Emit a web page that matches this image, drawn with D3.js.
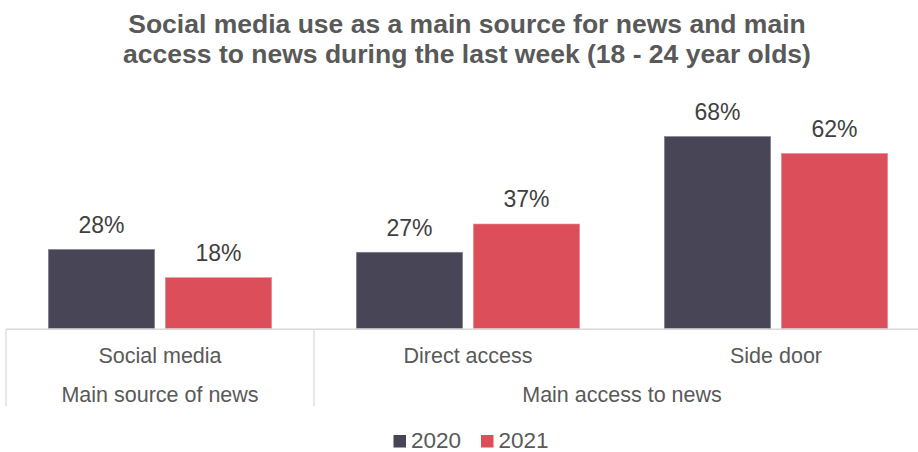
<!DOCTYPE html>
<html>
<head>
<meta charset="utf-8">
<script src="https://cdn.jsdelivr.net/npm/d3@7"></script>
<style>
  html, body { margin: 0; padding: 0; background: #fff; }
  svg { display: block; font-family: "Liberation Sans", Arial, sans-serif; }
</style>
</head>
<body>
<svg id="chart" width="918" height="452"></svg>
<script>
const titleLines = ["Social media use as a main source for news and main",
                    "access to news during the last week (18 - 24 year olds)"];
const categories = ["Social media", "Direct access", "Side door"];
const groups = [
  { name: "Main source of news", cats: ["Social media"] },
  { name: "Main access to news", cats: ["Direct access", "Side door"] }
];
const seriesNames = ["2020", "2021"];
const values2020 = [28, 27, 68];
const values2021 = [18, 37, 62];
const colors = ["#474556", "#DC4F5A"];

const svg = d3.select("#chart");

// Title
svg.append("g").selectAll("text").data(titleLines).join("text")
  .attr("x", 467).attr("y", (d, i) => 33 + i * 30)
  .attr("text-anchor", "middle")
  .attr("font-size", "26.5px").attr("font-weight", "bold")
  .attr("fill", "#595959")
  .text(d => d);

// Scales
const x = d3.scaleBand().domain(categories).range([6, 930]).padding(0);
const xInner = d3.scaleBand().domain(seriesNames)
  .range([42.3, x.bandwidth() - 42.3]).paddingInner(0.091);
const y = d3.scaleLinear().domain([0, 100]).range([328.5, 46.1]);

const data = categories.map((c, i) => ({
  cat: c,
  vals: [{ s: "2020", v: values2020[i] }, { s: "2021", v: values2021[i] }]
}));

const gCat = svg.append("g").selectAll("g").data(data).join("g")
  .attr("transform", d => `translate(${x(d.cat)},0)`);

gCat.selectAll("rect").data(d => d.vals).join("rect")
  .attr("x", d => xInner(d.s))
  .attr("width", xInner.bandwidth())
  .attr("y", d => y(d.v))
  .attr("height", d => y(0) - y(d.v))
  .attr("fill", d => colors[seriesNames.indexOf(d.s)])
  .attr("stroke", d => d.s === "2020" ? "#8a8894" : "#ea8f96")
  .attr("stroke-width", 0.6);

gCat.selectAll("text.val").data(d => d.vals).join("text")
  .attr("class", "val")
  .attr("x", d => xInner(d.s) + xInner.bandwidth() / 2)
  .attr("y", d => y(d.v) - 16.7)
  .attr("text-anchor", "middle")
  .attr("font-size", "23px")
  .attr("fill", "#404040")
  .text(d => d.v + "%");

// Axis
const axisColor = "#d9d9d9";
const axisY = 329.3;
svg.append("line")
  .attr("x1", x.range()[0]).attr("x2", x.range()[1])
  .attr("y1", axisY).attr("y2", axisY)
  .attr("stroke", axisColor).attr("stroke-width", 1.5);

// group separators
const groupBounds = groups.map(g => ({
  name: g.name,
  x0: x(g.cats[0]),
  x1: x(g.cats[g.cats.length - 1]) + x.bandwidth()
}));
const sepXs = [groupBounds[0].x0].concat(groupBounds.map(g => g.x1));
svg.append("g").selectAll("line").data(sepXs).join("line")
  .attr("x1", d => d).attr("x2", d => d)
  .attr("y1", axisY).attr("y2", 406)
  .attr("stroke", axisColor).attr("stroke-width", 1.2);

// category labels
svg.append("g").selectAll("text").data(categories).join("text")
  .attr("x", d => x(d) + x.bandwidth() / 2)
  .attr("y", 363)
  .attr("text-anchor", "middle")
  .attr("font-size", "21.5px")
  .attr("fill", "#595959")
  .text(d => d);

// group labels
svg.append("g").selectAll("text").data(groupBounds).join("text")
  .attr("x", d => (d.x0 + d.x1) / 2)
  .attr("y", 401.5)
  .attr("text-anchor", "middle")
  .attr("font-size", "21.5px")
  .attr("fill", "#595959")
  .text(d => d.name);

// Legend
const legendX = [393.5, 481];
const lg = svg.append("g").selectAll("g").data(seriesNames).join("g")
  .attr("transform", (d, i) => `translate(${legendX[i]},0)`);
lg.append("rect").attr("x", 0).attr("y", 435).attr("width", 12.5).attr("height", 12.5)
  .attr("fill", (d, i) => colors[i]);
lg.append("text").attr("x", 17.5).attr("y", 448)
  .attr("font-size", "22.5px").attr("fill", "#595959")
  .text(d => d);
</script>
</body>
</html>
